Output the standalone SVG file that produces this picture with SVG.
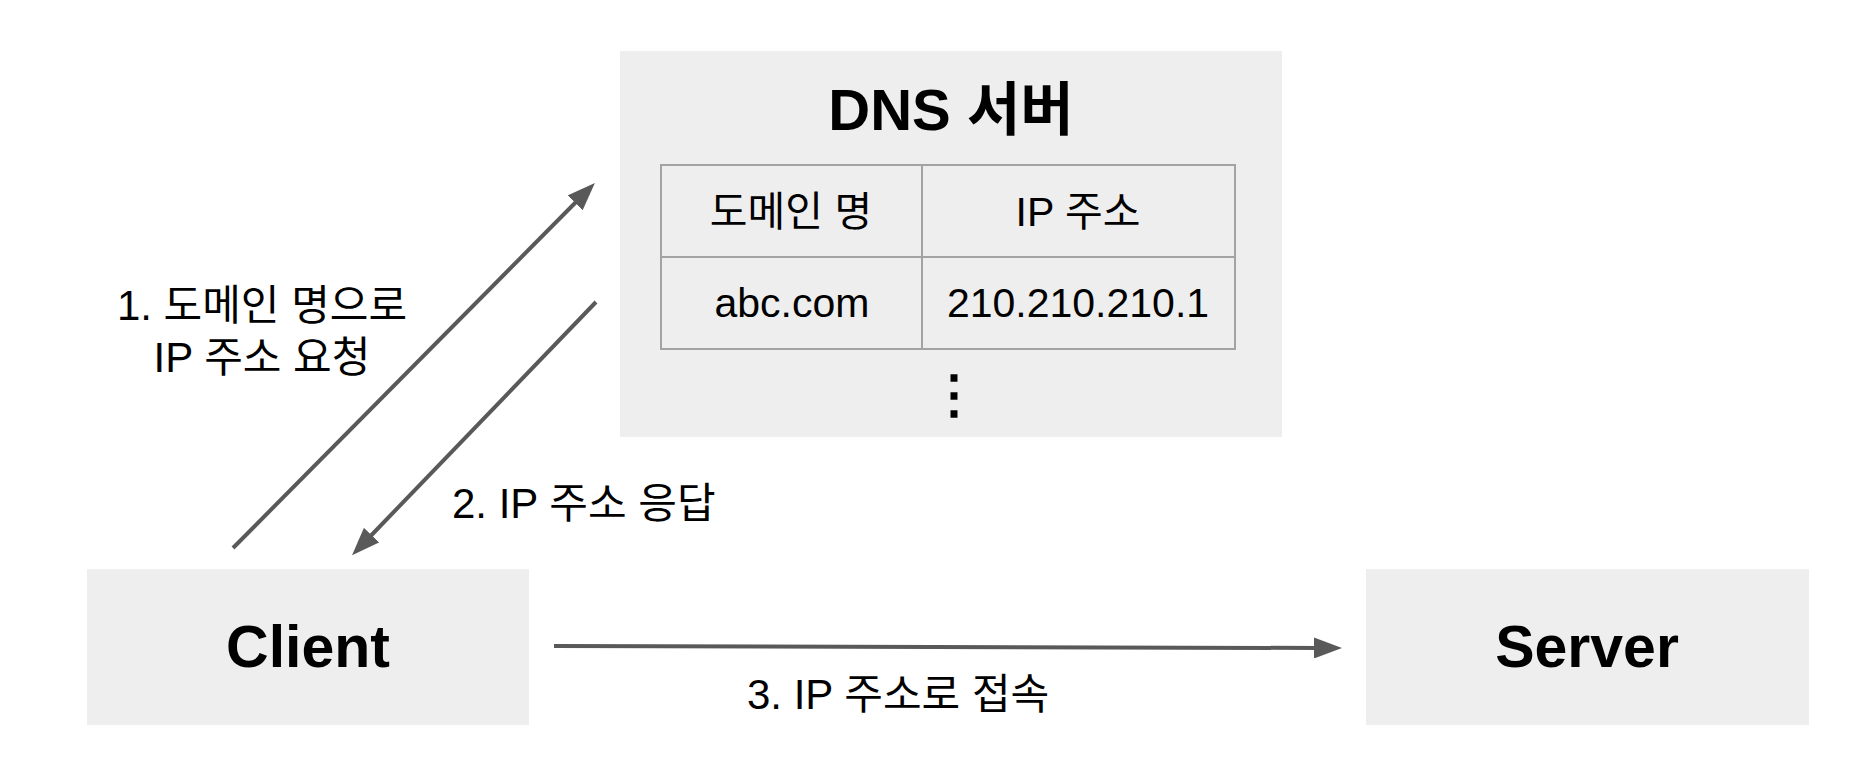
<svg xmlns="http://www.w3.org/2000/svg" width="1862" height="776" viewBox="0 0 1862 776">
<style>
.box{fill:#eeeeee}
.cell{fill:none;stroke:#a3a3a3;stroke-width:2}
.t{font-family:"Liberation Sans","Noto Sans CJK KR",sans-serif;fill:#000}
.b{font-weight:bold}
.c{stroke:#595959;stroke-width:4;fill:none;marker-end:url(#ah)}
</style>
<defs>
<marker id="ah" markerUnits="userSpaceOnUse" viewBox="0 0 28 21" markerWidth="28" markerHeight="21" refX="4" refY="10.5" orient="auto">
<path d="M0,0 L28,10.5 L0,21 z" fill="#595959"/>
</marker>
</defs>
<rect width="1862" height="776" fill="#ffffff"/>
<g id="dns">
<rect class="box" x="620" y="51" width="662" height="386"/>
<text class="t b" x="951" y="130" font-size="58" text-anchor="middle">DNS 서버</text>
<rect class="cell" x="661" y="165" width="574" height="184"/>
<line class="cell" x1="661" y1="257" x2="1235" y2="257"/>
<line class="cell" x1="922" y1="165" x2="922" y2="349"/>
<text class="t" x="791" y="226" font-size="41" text-anchor="middle">도메인 명</text>
<text class="t" x="1078" y="226" font-size="41" text-anchor="middle">IP 주소</text>
<text class="t" x="792" y="317" font-size="41" text-anchor="middle">abc.com</text>
<text class="t" x="1078" y="317" font-size="41" text-anchor="middle">210.210.210.1</text>
<text x="953.5" y="412" font-size="52" text-anchor="middle" font-family="Noto Sans CJK KR,sans-serif" font-weight="bold">⋮</text>
</g>
<g id="client">
<rect class="box" x="87" y="569" width="442" height="156"/>
<text class="t b" x="308" y="667" font-size="59" text-anchor="middle">Client</text>
</g>
<g id="server">
<rect class="box" x="1366" y="569" width="443" height="156"/>
<text class="t b" x="1587" y="667" font-size="59" text-anchor="middle">Server</text>
</g>
<g id="connectors">
<line class="c" x1="233" y1="548" x2="578" y2="200"/>
<line class="c" x1="596" y1="302" x2="368.7" y2="538"/>
<line class="c" x1="554" y1="646" x2="1318" y2="648"/>
<text class="t" x="262" y="320" font-size="42" text-anchor="middle">1. 도메인 명으로</text>
<text class="t" x="262" y="372" font-size="42" text-anchor="middle">IP 주소 요청</text>
<text class="t" x="452" y="518" font-size="42">2. IP 주소 응답</text>
<text class="t" x="747" y="709" font-size="42">3. IP 주소로 접속</text>
</g>
</svg>
